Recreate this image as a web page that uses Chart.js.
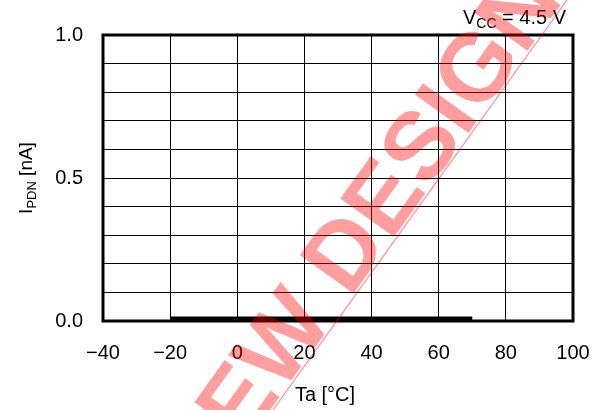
<!DOCTYPE html>
<html>
<head>
<meta charset="utf-8">
<script src="https://cdn.jsdelivr.net/npm/chart.js@4.4.1/dist/chart.umd.min.js"></script>
<style>
    html, body { margin: 0; padding: 0; background: #fff; }
    #wrap { width: 602px; height: 410px; position: relative; }
</style>
</head>
<body>
<div id="wrap"><canvas id="chart" width="602" height="410"></canvas></div>
<script>
// Chart data
const temperatures = [-20, -10, 0, 10, 20, 30, 40, 50, 60, 70];
const currents = [0.009, 0.009, 0.009, 0.009, 0.009, 0.009, 0.009, 0.009, 0.009, 0.009];
const yLabels = [0.0, 0.5, 1.0];
const FONT = 'Arial, "Liberation Sans", sans-serif';

// Text with a subscript part: [[text, isSub], ...]
function drawParts(ctx, parts, x, y, size, subSize) {
    let cx = x;
    parts.forEach(([txt, sub]) => {
        ctx.font = (sub ? subSize : size) + 'px ' + FONT;
        ctx.fillText(txt, cx, sub ? y + 4 : y);
        cx += ctx.measureText(txt).width;
    });
}

function partsWidth(ctx, parts, size, subSize) {
    let w = 0;
    parts.forEach(([txt, sub]) => {
        ctx.font = (sub ? subSize : size) + 'px ' + FONT;
        w += ctx.measureText(txt).width;
    });
    return w;
}

const decorations = {
    id: 'decorations',
    afterDraw(chart) {
        const ctx = chart.ctx;
        const area = chart.chartArea;
        ctx.save();

        // Frame
        ctx.strokeStyle = '#000';
        ctx.lineWidth = 3;
        ctx.strokeRect(area.left, area.top, area.right - area.left, area.bottom - area.top);

        ctx.fillStyle = '#000';
        ctx.textBaseline = 'alphabetic';
        ctx.textAlign = 'left';

        // Vcc note
        drawParts(ctx, [['V', false], ['CC', true], [' = 4.5 V', false]], 463, 24, 20, 14);

        // x title
        ctx.font = '20px ' + FONT;
        ctx.textAlign = 'center';
        ctx.fillText('Ta [\u00B0C]', 325, 401);

        // y title
        ctx.textAlign = 'left';
        const yParts = [['I', false], ['PDN', true], [' [nA]', false]];
        const w = partsWidth(ctx, yParts, 19, 13);
        ctx.save();
        ctx.translate(32, (area.top + area.bottom) / 2);
        ctx.rotate(-Math.PI / 2);
        drawParts(ctx, yParts, -w / 2, 0, 19, 13);
        ctx.restore();

        // Watermark
        ctx.fillStyle = 'rgba(255,0,0,0.38)';
        ctx.strokeStyle = 'rgba(255,0,0,0.4)';
        ctx.lineWidth = 1.3;
        ctx.beginPath();
        ctx.moveTo(273, 410);
        ctx.lineTo(567, 0);
        ctx.stroke();
        ctx.translate(384, 251);
        ctx.rotate(-54.36 * Math.PI / 180);
        ctx.font = 'bold 96px ' + FONT;
        ctx.textAlign = 'center';
        ctx.fillText('NEW DESIGN', 0, 0);

        ctx.restore();
    }
};

new Chart(document.getElementById('chart'), {
    type: 'line',
    data: {
        datasets: [{
            data: temperatures.map((t, i) => ({ x: t, y: currents[i] })),
            borderColor: '#000',
            borderWidth: 4,
            pointRadius: 0,
            tension: 0,
            fill: false
        }]
    },
    options: {
        responsive: false,
        animation: false,
        events: [],
        layout: { padding: { top: 35, right: 29, left: 0, bottom: 0 } },
        plugins: {
            legend: { display: false },
            tooltip: { enabled: false }
        },
        scales: {
            x: {
                type: 'linear',
                min: -40,
                max: 100,
                ticks: {
                    stepSize: 20,
                    color: '#000',
                    font: { family: FONT, size: 20 },
                    padding: 20,
                    maxRotation: 0,
                    callback: v => (v < 0 ? '\u2212' + Math.abs(v) : String(v))
                },
                grid: { color: '#000', lineWidth: 1, drawTicks: false },
                border: { display: false },
                afterFit: scale => {
                    scale.height = 410 - 321;
                    scale.paddingLeft = 0;
                    scale.paddingRight = 0;
                }
            },
            y: {
                min: 0,
                max: 1,
                ticks: {
                    stepSize: 0.1,
                    color: '#000',
                    font: { family: FONT, size: 20 },
                    padding: 20,
                    autoSkip: false,
                    callback: v => (yLabels.some(l => Math.abs(l - v) < 1e-6) ? v.toFixed(1) : '')
                },
                grid: { color: '#000', lineWidth: 1, drawTicks: false },
                border: { display: false },
                afterFit: scale => {
                    scale.width = 103;
                    scale.paddingTop = 0;
                    scale.paddingBottom = 0;
                }
            }
        }
    },
    plugins: [decorations]
});
</script>
</body>
</html>
